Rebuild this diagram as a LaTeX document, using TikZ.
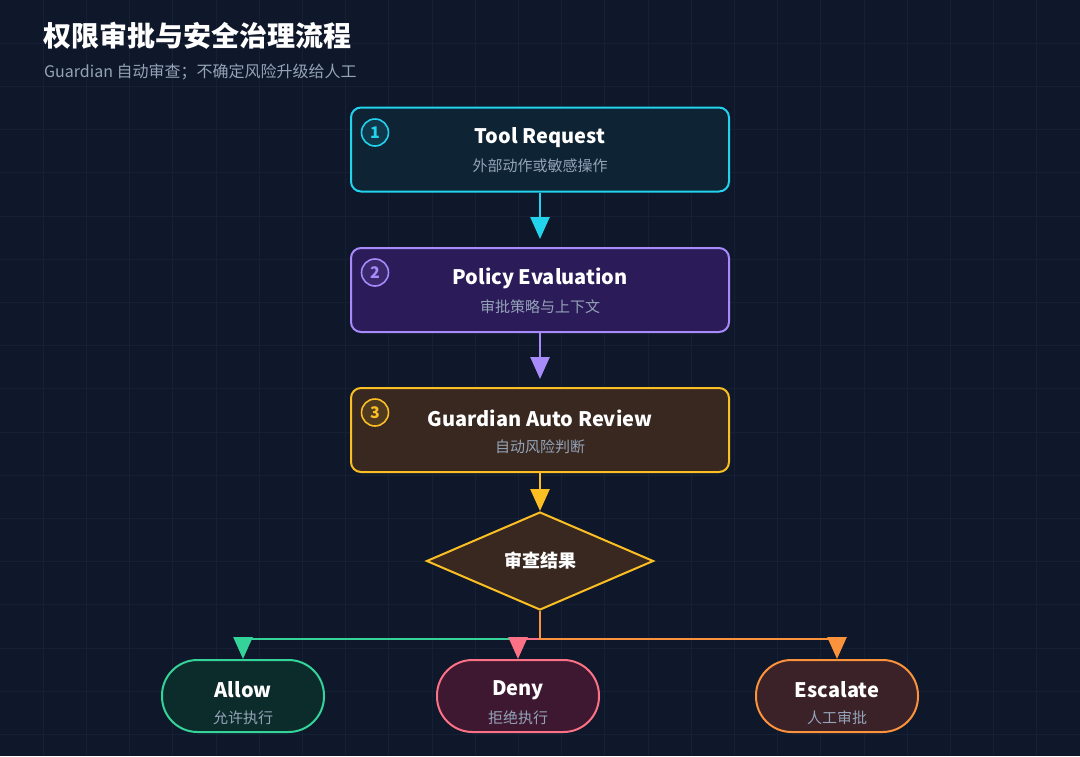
\documentclass[tikz,border=0pt]{standalone}
\usepackage{fontspec}
\setmainfont{Noto Sans CJK SC}
\usetikzlibrary{shapes.geometric,arrows.meta}
\definecolor{bg}{HTML}{0F172A}
\definecolor{gridc}{HTML}{162034}
\definecolor{subg}{HTML}{94A3B8}
\definecolor{cyanS}{HTML}{22D3EE}
\definecolor{cyanF}{HTML}{0E2334}
\definecolor{purS}{HTML}{A78BFA}
\definecolor{purF}{HTML}{2B1B59}
\definecolor{yelS}{HTML}{FBBF24}
\definecolor{yelF}{HTML}{382820}
\definecolor{grnS}{HTML}{34D399}
\definecolor{grnF}{HTML}{0C2C2B}
\definecolor{pnkS}{HTML}{FB7185}
\definecolor{pnkF}{HTML}{3D1830}
\definecolor{orgS}{HTML}{FB923C}
\definecolor{orgF}{HTML}{3A2228}
\tikzset{
  stepbox/.style={draw, line width=2pt, rounded corners=10pt, minimum width=378pt, minimum height=84pt, inner sep=0pt},
  endbox/.style={draw, line width=2pt, rounded corners=35.5pt, minimum width=162pt, minimum height=72pt, inner sep=0pt},
  numc/.style={circle, draw, line width=1.6pt, minimum size=27pt, inner sep=0pt, font=\fontsize{16}{16}\selectfont\bfseries},
  ttl/.style={text=white, font=\fontsize{20}{20}\selectfont\bfseries, inner sep=0pt},
  sub/.style={text=subg, font=\fontsize{15}{15}\selectfont, inner sep=0pt},
  conn/.style={line width=2.6pt, -{Triangle[length=22pt,width=19pt]}},
}
\begin{document}
\begin{tikzpicture}[x=1pt,y=-1pt]
\fill[bg] (0,0) rectangle (1080,756);
\useasboundingbox (0,0) rectangle (1080,756);
\foreach \i in {1,...,24} \draw[gridc, line width=1pt] ({43.2*\i},0) -- ({43.2*\i},756);
\foreach \j in {1,...,17} \draw[gridc, line width=1pt] (0,{43.2*\j}) -- (1080,{43.2*\j});

\node[anchor=west, text=white, font=\fontsize{28}{28}\selectfont\bfseries, inner sep=0pt] (title) at (43,36) {权限审批与安全治理流程};
\node[anchor=west, text=subg, font=\fontsize{16}{16}\selectfont, inner sep=0pt] (subtitle) at (44,72) {Guardian 自动审查；不确定风险升级给人工};

% step boxes
\node[stepbox, draw=cyanS, fill=cyanF] (b1) at (540,149.5) {};
\node[ttl] (b1t) at (540,138) {Tool Request};
\node[sub] (b1s) at (540,166) {外部动作或敏感操作};
\node[numc, draw=cyanS, fill=cyanS!12!cyanF, text=cyanS] (n1) at (375,132.5) {1};

\node[stepbox, draw=purS, fill=purF] (b2) at (540,290) {};
\node[ttl] (b2t) at (540,278) {Policy Evaluation};
\node[sub] (b2s) at (540,307) {审批策略与上下文};
\node[numc, draw=purS, fill=purS!12!purF, text=purS] (n2) at (375,272.5) {2};

\node[stepbox, draw=yelS, fill=yelF] (b3) at (540,430) {};
\node[ttl] (b3t) at (540,418) {Guardian Auto Review};
\node[sub] (b3s) at (540,447) {自动风险判断};
\node[numc, draw=yelS, fill=yelS!12!yelF, text=yelS] (n3) at (375,412.5) {3};

% decision
\node[diamond, draw=yelS, fill=yelF, line width=2pt, minimum width=227pt, minimum height=98pt, inner sep=0pt, aspect=2.3,
      text=white, font=\fontsize{18}{18}\selectfont\bfseries] (dec) at (540,561) {审查结果};

% end nodes
\node[endbox, draw=grnS, fill=grnF] (allow) at (243,696) {};
\node[ttl] (allowt) at (243,690) {Allow};
\node[sub] (allows) at (243,718) {允许执行};

\node[endbox, draw=pnkS, fill=pnkF] (deny) at (518,696) {};
\node[ttl] (denyt) at (518,690) {Deny};
\node[sub] (denys) at (518,718) {拒绝执行};

\node[endbox, draw=orgS, fill=orgF] (esc) at (837,696) {};
\node[ttl] (esct) at (837,690) {Escalate};
\node[sub] (escs) at (837,718) {人工审批};

% connectors
\draw[conn, cyanS, shorten >=8pt] (b1.south) -- (b2.north);
\draw[conn, purS, shorten >=8pt] (b2.south) -- (b3.north);
\draw[conn, yelS] (b3.south) -- (dec.north);
\coordinate (split) at (540,639);
\draw[conn, grnS] (dec.south) -- (split) -| (allow.north);
\draw[conn, pnkS] (dec.south) -- (split) -| (deny.north);
\draw[conn, orgS] (dec.south) -- (split) -| (esc.north);
\end{tikzpicture}
\end{document}
